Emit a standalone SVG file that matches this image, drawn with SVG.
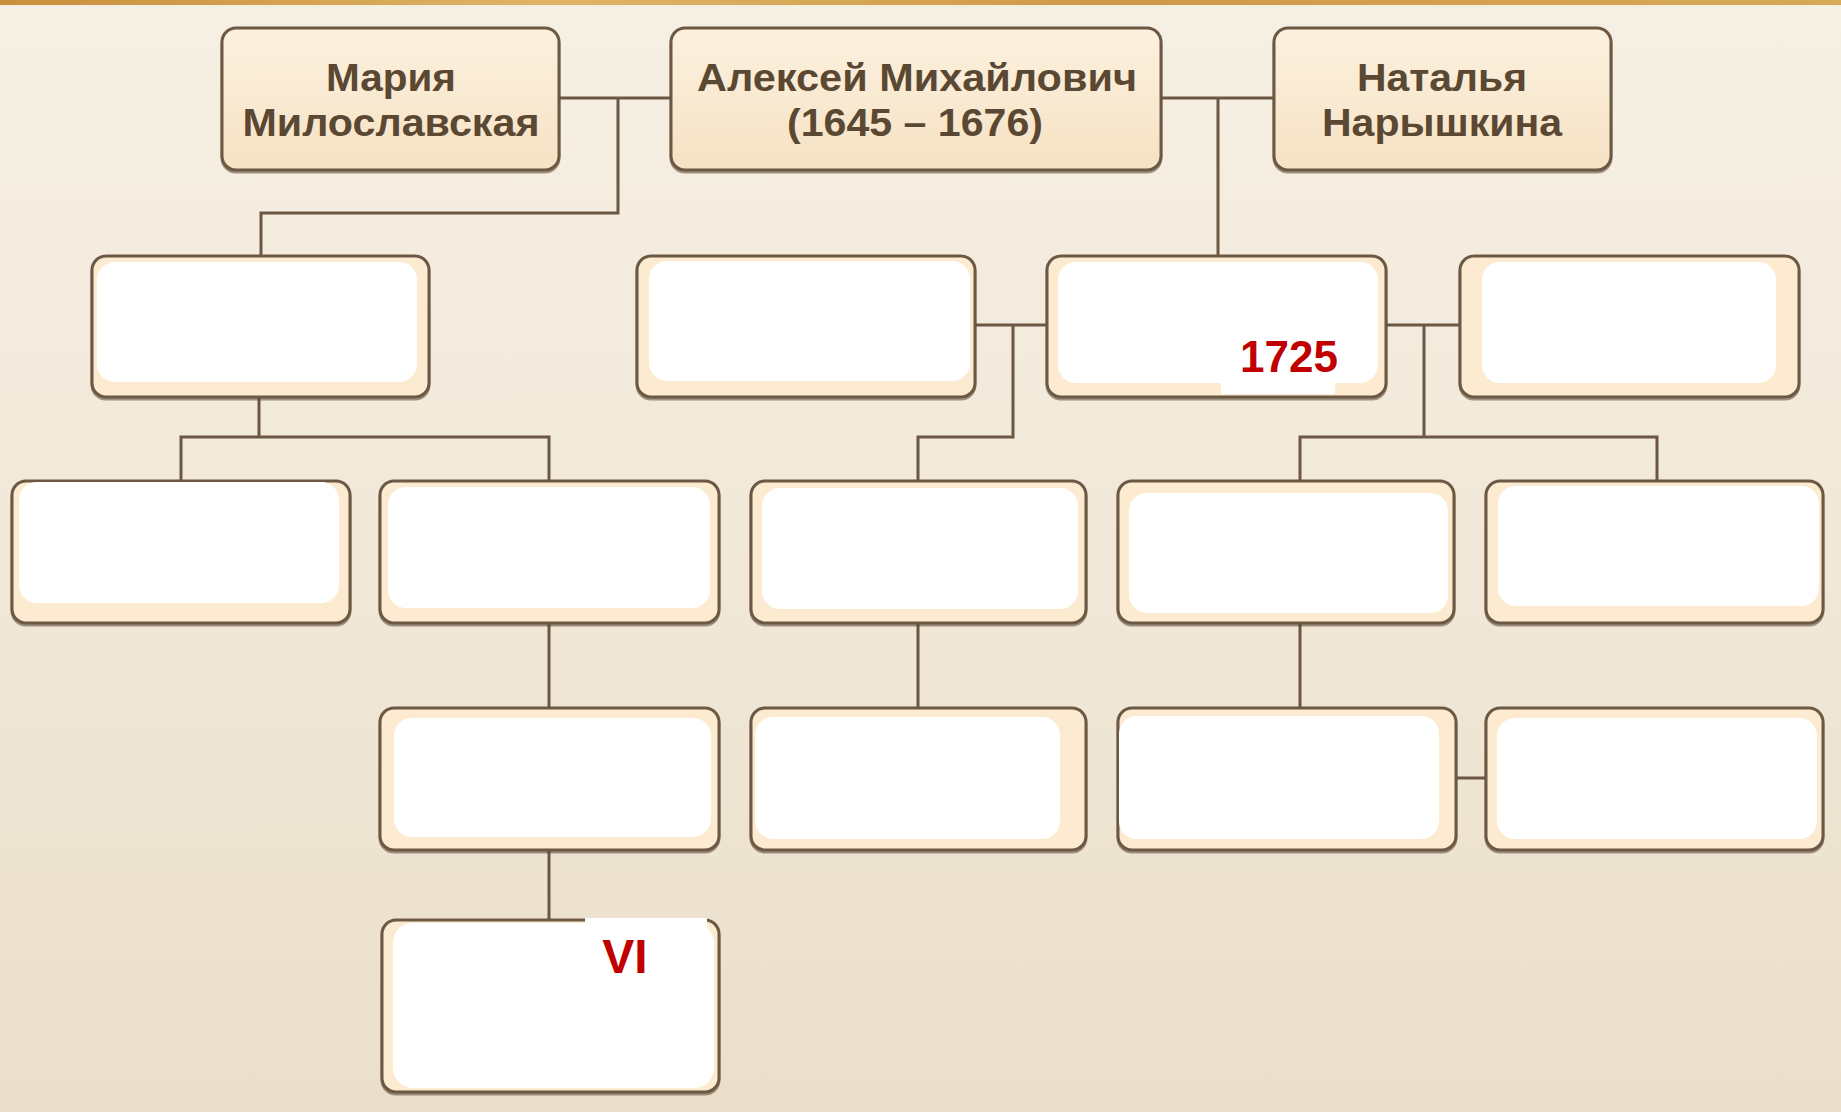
<svg xmlns="http://www.w3.org/2000/svg" width="1841" height="1112" viewBox="0 0 1841 1112">
<defs>
<linearGradient id="bg" x1="0" y1="0" x2="0" y2="1">
<stop offset="0" stop-color="#f6f0e4"/>
<stop offset="0.5" stop-color="#f1e8d8"/>
<stop offset="1" stop-color="#ebdfcb"/>
</linearGradient>
<linearGradient id="gold" x1="0" y1="0" x2="1" y2="0">
<stop offset="0" stop-color="#c98f3c"/>
<stop offset="0.3" stop-color="#e0b464"/>
<stop offset="0.6" stop-color="#cf9a48"/>
<stop offset="1" stop-color="#d9a956"/>
</linearGradient>
<linearGradient id="topfill" x1="0" y1="0" x2="0" y2="1">
<stop offset="0" stop-color="#fcf1df"/>
<stop offset="1" stop-color="#f6e2c4"/>
</linearGradient>
</defs>
<style>
.box{fill:#fcebd1;stroke:#6c5843;stroke-width:3}
.tbox{fill:url(#topfill);stroke:#6c5843;stroke-width:3}
.sh{fill:none;stroke:#5a4734;stroke-width:3;opacity:0.55}
.in{fill:#ffffff}
.pt{fill:#ffffff}
.name{font-family:"Liberation Sans",Arial,sans-serif;font-weight:bold;font-size:39px;fill:#5b4833;text-anchor:middle}
.red{font-family:"Liberation Sans",Arial,sans-serif;font-weight:bold;fill:#c00000;text-anchor:middle}
.ln{fill:none;stroke:#6b5742;stroke-width:3}
</style>
<rect x="0" y="0" width="1841" height="1112" fill="url(#bg)"/>
<rect x="0" y="0" width="1841" height="5" fill="url(#gold)"/>

<g id="connectors">
<path class="ln" d="M559 98 H671"/>
<path class="ln" d="M618 98 V213 H261 V256"/>
<path class="ln" d="M1161 98 H1274"/>
<path class="ln" d="M1218 98 V256"/>
<path class="ln" d="M259 397 V437"/>
<path class="ln" d="M181 481 V437 H549 V481"/>
<path class="ln" d="M975 325 H1047"/>
<path class="ln" d="M1013 325 V437 H918 V481"/>
<path class="ln" d="M1386 325 H1460"/>
<path class="ln" d="M1424 325 V437"/>
<path class="ln" d="M1300 481 V437 H1657 V481"/>
<path class="ln" d="M549 623 V708"/>
<path class="ln" d="M918 623 V708"/>
<path class="ln" d="M1300 623 V708"/>
<path class="ln" d="M1456 778 H1486"/>
<path class="ln" d="M549 850 V920"/>
</g>

<g id="maria">
<rect class="sh" x="222" y="30" width="337" height="142" rx="14"/>
<rect class="tbox" x="222" y="28" width="337" height="142" rx="14"/>
<text class="name" x="391" y="91" textLength="130" lengthAdjust="spacingAndGlyphs">Мария</text>
<text class="name" x="391" y="136" textLength="297" lengthAdjust="spacingAndGlyphs">Милославская</text>
</g>
<g id="alexei">
<rect class="sh" x="671" y="30" width="490" height="142" rx="14"/>
<rect class="tbox" x="671" y="28" width="490" height="142" rx="14"/>
<text class="name" x="917" y="91" textLength="440" lengthAdjust="spacingAndGlyphs">Алексей Михайлович</text>
<text class="name" x="915" y="136" textLength="256" lengthAdjust="spacingAndGlyphs">(1645 – 1676)</text>
</g>
<g id="natalia">
<rect class="sh" x="1274" y="30" width="337" height="142" rx="14"/>
<rect class="tbox" x="1274" y="28" width="337" height="142" rx="14"/>
<text class="name" x="1442" y="91" textLength="170" lengthAdjust="spacingAndGlyphs">Наталья</text>
<text class="name" x="1442" y="136" textLength="240" lengthAdjust="spacingAndGlyphs">Нарышкина</text>
</g>

<g id="nodeA">
<rect class="sh" x="92" y="258" width="337" height="141" rx="14"/>
<rect class="box" x="92" y="256" width="337" height="141" rx="14"/>
<rect class="in" x="97" y="262" width="320" height="120" rx="18"/>
</g>
<g id="nodeB">
<rect class="sh" x="637" y="258" width="338" height="141" rx="14"/>
<rect class="box" x="637" y="256" width="338" height="141" rx="14"/>
<rect class="in" x="649" y="261" width="321" height="120" rx="18"/>
</g>
<g id="nodeC">
<rect class="sh" x="1047" y="258" width="339" height="141" rx="14"/>
<rect class="box" x="1047" y="256" width="339" height="141" rx="14"/>
<rect class="in" x="1058" y="262" width="320" height="121" rx="18"/>
<rect class="pt" x="1221" y="340" width="114" height="54"/>
<text class="red" x="1289" y="372" font-size="44">1725</text>
</g>
<g id="nodeD">
<rect class="sh" x="1460" y="258" width="339" height="141" rx="14"/>
<rect class="box" x="1460" y="256" width="339" height="141" rx="14"/>
<rect class="in" x="1482" y="262" width="294" height="121" rx="18"/>
</g>

<g id="nodeE">
<rect class="sh" x="12" y="483" width="338" height="142" rx="14"/>
<rect class="box" x="12" y="481" width="338" height="142" rx="14"/>
<rect class="in" x="19" y="482" width="320" height="121" rx="18"/>
</g>
<g id="nodeF">
<rect class="sh" x="380" y="483" width="339" height="142" rx="14"/>
<rect class="box" x="380" y="481" width="339" height="142" rx="14"/>
<rect class="in" x="388" y="487" width="322" height="121" rx="18"/>
</g>
<g id="nodeG">
<rect class="sh" x="751" y="483" width="335" height="142" rx="14"/>
<rect class="box" x="751" y="481" width="335" height="142" rx="14"/>
<rect class="in" x="762" y="488" width="316" height="121" rx="18"/>
</g>
<g id="nodeH">
<rect class="sh" x="1118" y="483" width="336" height="142" rx="14"/>
<rect class="box" x="1118" y="481" width="336" height="142" rx="14"/>
<rect class="in" x="1129" y="493" width="319" height="120" rx="18"/>
</g>
<g id="nodeI">
<rect class="sh" x="1486" y="483" width="337" height="142" rx="14"/>
<rect class="box" x="1486" y="481" width="337" height="142" rx="14"/>
<rect class="in" x="1498" y="486" width="321" height="120" rx="18"/>
</g>

<g id="nodeJ">
<rect class="sh" x="380" y="710" width="339" height="142" rx="14"/>
<rect class="box" x="380" y="708" width="339" height="142" rx="14"/>
<rect class="in" x="394" y="718" width="317" height="119" rx="18"/>
</g>
<g id="nodeK">
<rect class="sh" x="751" y="710" width="335" height="142" rx="14"/>
<rect class="box" x="751" y="708" width="335" height="142" rx="14"/>
<rect class="in" x="755" y="717" width="305" height="122" rx="18"/>
</g>
<g id="nodeL">
<rect class="sh" x="1118" y="710" width="338" height="142" rx="14"/>
<rect class="box" x="1118" y="708" width="338" height="142" rx="14"/>
<rect class="in" x="1119" y="716" width="320" height="123" rx="18"/>
</g>
<g id="nodeM">
<rect class="sh" x="1486" y="710" width="337" height="142" rx="14"/>
<rect class="box" x="1486" y="708" width="337" height="142" rx="14"/>
<rect class="in" x="1497" y="718" width="320" height="121" rx="18"/>
</g>

<g id="nodeN">
<rect class="sh" x="382" y="922" width="337" height="172" rx="14"/>
<rect class="box" x="382" y="920" width="337" height="172" rx="14"/>
<rect class="in" x="393" y="923" width="321" height="165" rx="20"/>
<rect class="pt" x="585" y="918" width="122" height="50"/>
<text class="red" x="625" y="973" font-size="48">VI</text>
</g>
</svg>
